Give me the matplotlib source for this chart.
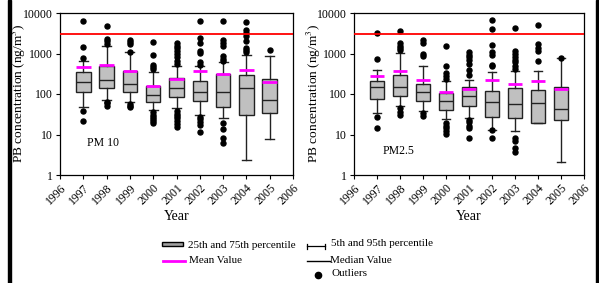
import numpy as np
import matplotlib.pyplot as plt
from matplotlib.patches import Rectangle
from matplotlib.ticker import FixedLocator, FuncFormatter, NullLocator
from matplotlib.transforms import ScaledTranslation

plt.rcParams['font.family'] = ['Liberation Serif', 'DejaVu Serif']
plt.rcParams['mathtext.fontset'] = 'stix'

years = [1997, 1998, 1999, 2000, 2001, 2002, 2003, 2004, 2005]
limit = 3000  # red reference line (ng/m3)

# PM10 box statistics
pm10_q1 = [113, 142, 115, 63, 82, 68, 49, 30.5, 33.6]
pm10_med = [196, 220, 172, 97, 139, 111, 113, 137, 70]
pm10_q3 = [347, 480, 360, 159, 246, 212, 310, 292, 233]
pm10_lo = [47, 72, 63, 40.5, 44, 30.5, 25, 2.35, 7.8]
pm10_hi = [660, 1497, 1084, 340, 497, 480, 614, 930, 848]
pm10_mean = [453, 527, 360, 159, 240, 360, 310, 396, 193]
pm10_out = [
    [6200, 1440, 770, 38, 22],
    [4680, 2275, 1995, 1710, 65, 59, 52],
    [2190, 1920, 1710, 1084, 56, 52, 48],
    [1920, 900, 527, 461, 411, 35, 31, 27.7, 24.8, 22, 19.7],
    [1800, 1550, 1350, 1150, 950, 800, 650, 550, 38, 33, 29, 25, 21, 18, 15.5],
    [6220, 2400, 1810, 1125, 1024, 615, 525, 27.7, 23.8, 20.9, 17.3, 11.8],
    [6220, 2190, 1810, 1550, 848, 728, 637, 19, 13.7, 8.1, 6.3],
    [5990, 3870, 3200, 2750, 2066, 1360, 1190, 1064],
    [1240],
]

# PM2.5 box statistics
pm25_q1 = [74.5, 90, 68, 40.6, 51, 27.7, 25, 19, 23]
pm25_med = [145, 153, 115, 69, 87, 63, 57, 59, 42]
pm25_q3 = [212, 298, 175, 108, 153, 117, 139, 127, 148]
pm25_lo = [33.6, 51, 39, 23.8, 25, 13, 12.5, 19, 2.06]
pm25_hi = [396, 1024, 480, 212, 224, 340, 360, 374, 771]
pm25_mean = [271, 374, 224, 111, 134, 224, 172, 204, 132]
pm25_out = [
    [3200, 728, 26.6, 14.6],
    [3520, 1810, 1550, 1360, 1190, 44.6, 36.9, 30.5],
    [2108, 1810, 968, 848, 33.6, 28],
    [1497, 480, 327, 271, 233, 19, 16.3, 14.3, 12.5, 10.3],
    [1064, 910, 800, 680, 550, 400, 295, 23, 20, 16, 14.3, 8.1],
    [6830, 4090, 1585, 1064, 898, 507, 480, 13, 8.1],
    [4250, 1170, 980, 830, 710, 600, 500, 420, 8.4, 7.1, 4.7, 3.8],
    [5140, 1710, 1360, 1127, 637],
    [771],
]


def make_stats(q1, med, q3, lo, hi, mean, out):
    return [dict(q1=a, med=b, q3=c, whislo=d, whishi=e, mean=f, fliers=g)
            for a, b, c, d, e, f, g in zip(q1, med, q3, lo, hi, mean, out)]


def draw_panel(fig, ax, stats, label, label_xy, ylab_x):
    ax.bxp(stats, positions=years, widths=0.62, capwidths=0.38,
           patch_artist=True, showmeans=True, meanline=True,
           boxprops=dict(facecolor='#c0c0c0', edgecolor='#222222', lw=1.0),
           medianprops=dict(color='#222222', lw=1.0),
           meanprops=dict(color='#ff00ff', lw=2.0, linestyle='-'),
           whiskerprops=dict(color='#222222', lw=1.0),
           capprops=dict(color='#222222', lw=1.0),
           flierprops=dict(marker='o', mfc='black', mec='black', ms=3.6))
    ax.axhline(limit, color='red', lw=1.3, zorder=5)
    ax.set_yscale('log')
    ax.set_ylim(1, 10000)
    ax.set_xlim(1996, 2006)
    ax.yaxis.set_major_locator(FixedLocator([1, 10, 100, 1000, 10000]))
    ax.yaxis.set_major_formatter(FuncFormatter(lambda v, p: '%d' % v))
    ax.yaxis.set_minor_locator(NullLocator())
    ax.set_xticks(range(1996, 2007))
    ax.set_xticklabels([str(y) for y in range(1996, 2007)], rotation=45,
                       ha='right', va='top', rotation_mode='anchor')
    shift = ScaledTranslation(4 / 100, 0, fig.dpi_scale_trans)
    for t in ax.get_xticklabels():
        t.set_transform(t.get_transform() + shift)
    ax.tick_params(direction='out', length=3, width=0.8, labelsize=8.5, pad=2)
    for s in ax.spines.values():
        s.set_linewidth(0.9)
    ax.set_xlabel('Year', fontsize=10, labelpad=2)
    ax.set_ylabel('PB concentration (ng/m$^3$)', fontsize=9.6)
    ax.yaxis.set_label_coords(ylab_x, 0.505)
    ax.text(label_xy[0], label_xy[1], label, fontsize=8.5,
            transform=ax.transAxes, va='center')


W, H = 599, 283
fig = plt.figure(figsize=(W / 100, H / 100), dpi=100)

ax1 = fig.add_axes([60 / W, 1 - 175 / H, 233 / W, 162 / H])
ax2 = fig.add_axes([354 / W, 1 - 175 / H, 230 / W, 162 / H])
draw_panel(fig, ax1, make_stats(pm10_q1, pm10_med, pm10_q3, pm10_lo, pm10_hi,
                                pm10_mean, pm10_out), 'PM 10', (0.115, 0.2),
           -0.137)
draw_panel(fig, ax2, make_stats(pm25_q1, pm25_med, pm25_q3, pm25_lo, pm25_hi,
                                pm25_mean, pm25_out), 'PM2.5', (0.125, 0.15),
           -0.135)

# overlay in pixel coordinates for the hand-made legend and side bars
lax = fig.add_axes([0, 0, 1, 1], zorder=-1)
lax.set_xlim(0, W)
lax.set_ylim(H, 0)
lax.axis('off')
lax.add_patch(Rectangle((8, 0), 3, H, color='black'))
lax.add_patch(Rectangle((596, 0), 3, H, color='black'))

fs = 8
lax.add_patch(Rectangle((162, 242), 21, 3.5, facecolor='#a0a0a0',
                        edgecolor='black', lw=1))
lax.text(188, 246, '25th and 75th percentile', fontsize=fs, va='center')
lax.plot([307, 325], [246, 246], color='black', lw=0.9)
lax.plot([307, 307], [243.5, 248.5], color='black', lw=0.9)
lax.plot([325, 325], [243.5, 248.5], color='black', lw=0.9)
lax.text(331, 243, '5th and 95th percentile', fontsize=fs, va='center')
lax.plot([163, 185], [260.5, 260.5], color='#ff00ff', lw=2)
lax.text(189, 260.5, 'Mean Value', fontsize=fs, va='center')
lax.plot([307, 330], [260.5, 260.5], color='black', lw=1)
lax.text(330, 260.5, 'Median Value', fontsize=fs, va='center')
lax.plot([318], [275], 'o', color='black', ms=4.5)
lax.text(331, 274, 'Outliers', fontsize=fs, va='center')

fig.savefig('out.png', dpi=100)
